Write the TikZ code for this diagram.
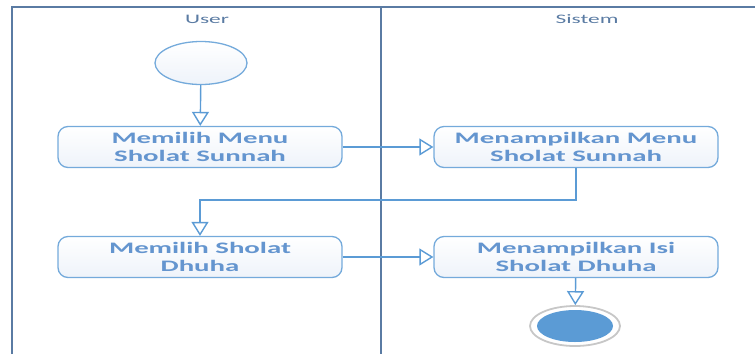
\documentclass[tikz,border=0pt]{standalone}
\usepackage{fontspec}
\usetikzlibrary{arrows.meta,shapes.geometric}
\newfontfamily\lanefont{Carlito}[FakeStretch=1.8]
\definecolor{laneblue}{HTML}{5A7BA3}
\definecolor{flowblue}{HTML}{5B9BD5}
\definecolor{boxtext}{HTML}{6495CF}
\definecolor{boxfill}{HTML}{EEF3FA}

\tikzset{
  lane/.style={line width=1.8pt, laneblue},
  act/.style={draw=flowblue!85, line width=1.3pt, rounded corners=10pt,
    top color=white, bottom color=boxfill,
    minimum width=284pt, minimum height=41pt, align=center, inner sep=2pt,
    text=boxtext, font=\lanefont\bfseries\fontsize{16}{18}\selectfont},
  flow/.style={flowblue, line width=1.4pt,
    -{Triangle[open, length=14pt, width=17pt, fill=white]}},
}

\begin{document}
\begin{tikzpicture}[x=1pt,y=-1pt]
        \useasboundingbox (0,0) rectangle (755,354);
        % Lanes
        \draw[lane] (12,354) -- (12,7) -- (755,7);
        \draw[lane] (381,7) -- (381,354);
        \node[laneblue, font=\lanefont\fontsize{13}{14}\selectfont] (user) at (207,19) {User};
        \node[laneblue, font=\lanefont\fontsize{13}{14}\selectfont] (sistem) at (587,19) {Sistem};

        % Start
        \node[ellipse, draw=flowblue!85, line width=1.3pt, top color=white, bottom color=boxfill,
              minimum width=92pt, minimum height=43pt] (start) at (201,63) {};

        % Activities
        \node[act] (m1) at (200,147) {Memilih Menu\\Sholat Sunnah};
        \node[act] (t1) at (576,147) {Menampilkan Menu\\Sholat Sunnah};
        \node[act] (m2) at (200,257) {Memilih Sholat\\Dhuha};
        \node[act] (t2) at (576,257) {Menampilkan Isi\\Sholat Dhuha};

        % End
        \node[ellipse, draw=black!22, line width=1.8pt, minimum width=90pt, minimum height=40pt] (end) at (575,326) {};
        \fill[flowblue] (end.center) ellipse (38 and 16);

        % Flow
        \draw[flow] (start) -- (m1);
        \draw[flow] (m1) -- (t1);
        \draw[flow] (t1.south) -- ++(0,32) -| (m2.north);
        \draw[flow] (m2) -- (t2);
        \draw[flow] (t2) -- (end);
\end{tikzpicture}
\end{document}
